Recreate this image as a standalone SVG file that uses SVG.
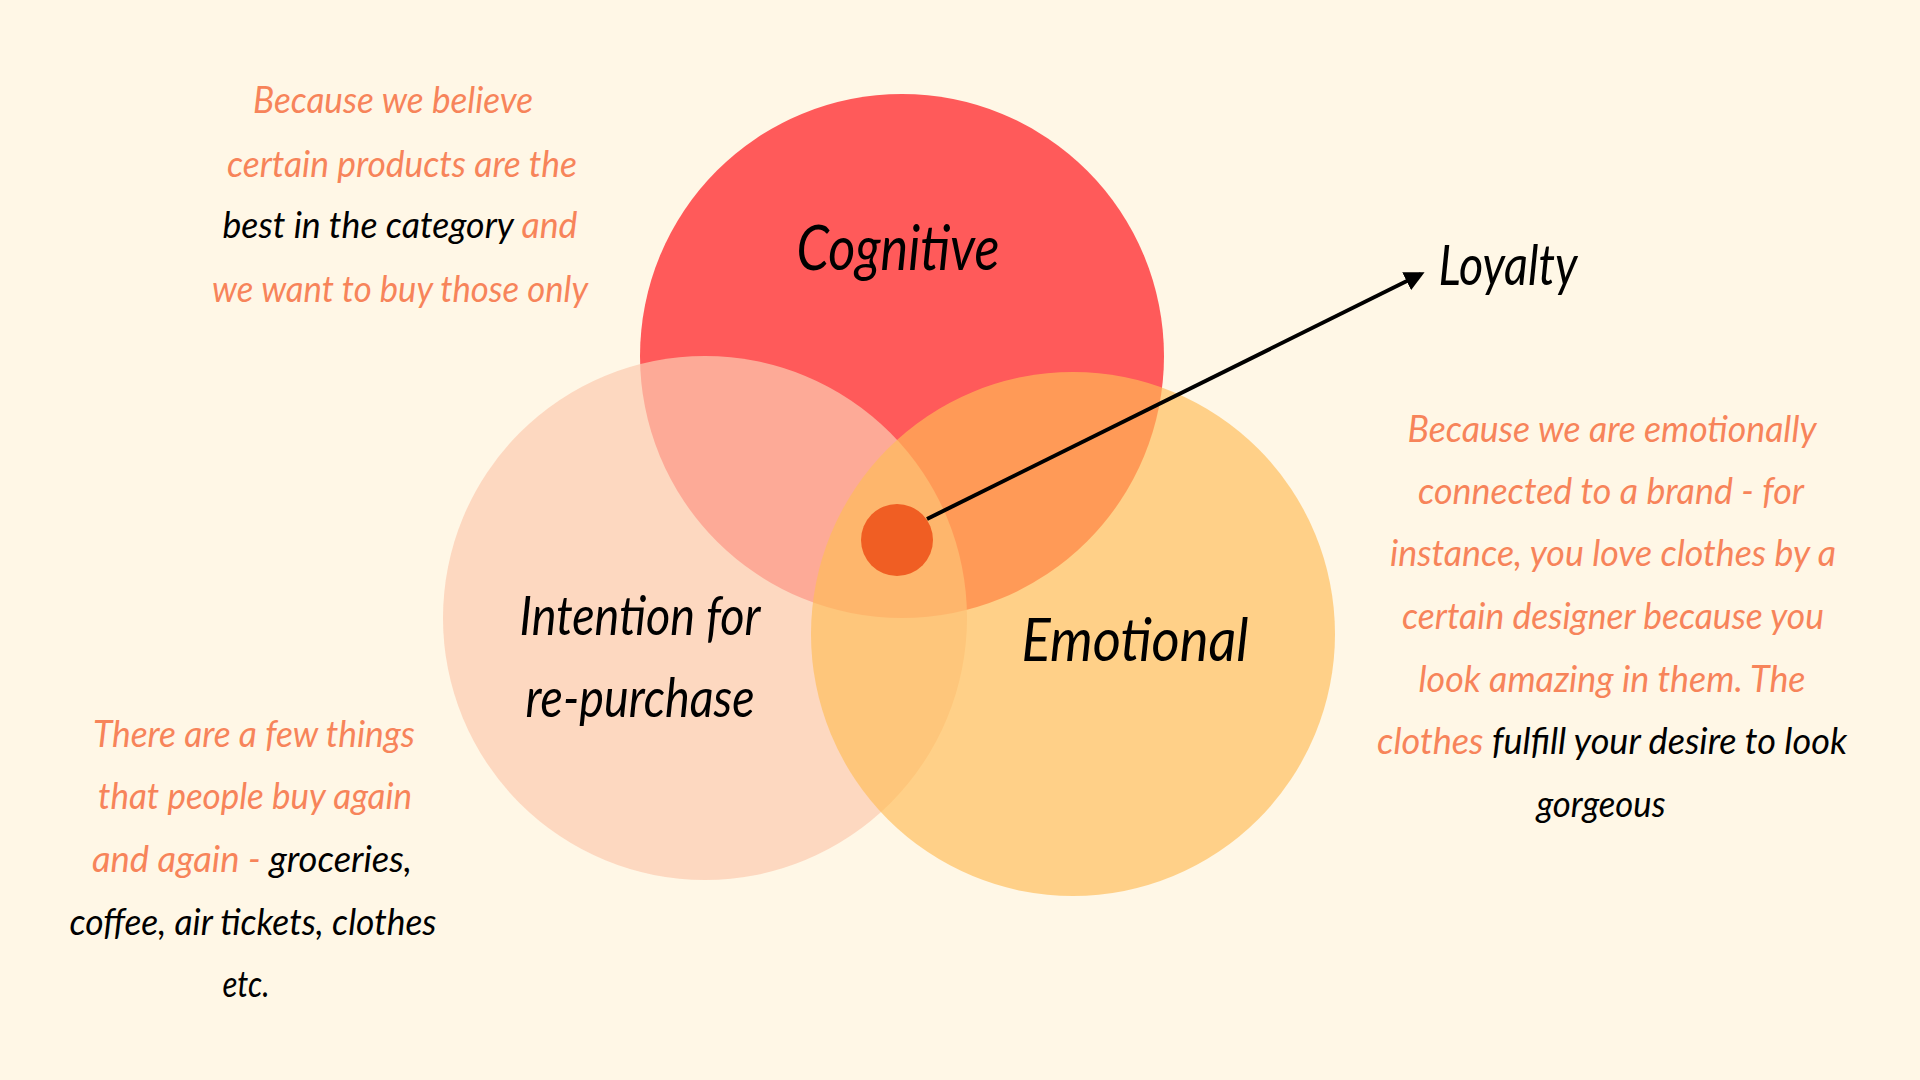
<svg xmlns="http://www.w3.org/2000/svg" width="1920" height="1080" viewBox="0 0 1920 1080">
<defs>
<style>
.t{font-family:Lato,"Open Sans","DejaVu Sans",sans-serif;font-style:italic;font-size:36px;fill:#F7845A;text-anchor:middle}
.k{fill:#000}
.lbl{font-family:Lato,"Open Sans","DejaVu Sans",sans-serif;font-style:italic;fill:#000;text-anchor:middle}
</style>
<marker id="ah" viewBox="0 0 10 10" refX="8" refY="5" markerWidth="5" markerHeight="5" orient="auto" markerUnits="strokeWidth">
<path d="M0,0 L10,5 L0,10 z" fill="#000"/>
</marker>
</defs>
<rect width="1920" height="1080" fill="#FFF7E6"/>
<g id="cognitive">
<circle cx="902" cy="356" r="262" fill="#FF5A5A"/>
</g>
<g id="intention">
<circle cx="705" cy="618" r="262" fill="#FCCBB0" fill-opacity="0.71"/>
</g>
<g id="emotional">
<circle cx="1073" cy="634" r="262" fill="#FFBC57" fill-opacity="0.66"/>
</g>
<g id="labels">
<text class="lbl" x="898" y="270" font-size="62" textLength="203" lengthAdjust="spacingAndGlyphs">Cognitive</text>
<text class="lbl" x="640" y="635" font-size="54" textLength="241" lengthAdjust="spacingAndGlyphs">Intention for</text>
<text class="lbl" x="640" y="717" font-size="54" textLength="229" lengthAdjust="spacingAndGlyphs">re-purchase</text>
<text class="lbl" x="1135" y="661" font-size="60" textLength="227" lengthAdjust="spacingAndGlyphs">Emotional</text>
</g>
<g id="loyalty-dot">
<circle cx="897" cy="540" r="36" fill="#F05E23"/>
</g>
<g id="connectors">
<line x1="927" y1="519" x2="1421" y2="274" stroke="#000" stroke-width="4" marker-end="url(#ah)"/>
</g>
<g id="loyalty">
<text class="lbl" x="1508" y="285" font-size="56" textLength="139" lengthAdjust="spacingAndGlyphs">Loyalty</text>
</g>
<g id="note-cognitive">
<text class="t" x="393" y="113" textLength="280" lengthAdjust="spacingAndGlyphs">Because we believe</text>
<text class="t" x="402" y="177" textLength="350" lengthAdjust="spacingAndGlyphs">certain products are the</text>
<text class="t" x="400" y="238" textLength="355" lengthAdjust="spacingAndGlyphs"><tspan class="k">best in the category</tspan> and</text>
<text class="t" x="400" y="302" textLength="376" lengthAdjust="spacingAndGlyphs">we want to buy those only</text>
</g>
<g id="note-emotional">
<text class="t" x="1612" y="442" textLength="409" lengthAdjust="spacingAndGlyphs">Because we are emotionally</text>
<text class="t" x="1611" y="504" textLength="386" lengthAdjust="spacingAndGlyphs">connected to a brand - for</text>
<text class="t" x="1613" y="566" textLength="446" lengthAdjust="spacingAndGlyphs">instance, you love clothes by a</text>
<text class="t" x="1613" y="629" textLength="422" lengthAdjust="spacingAndGlyphs">certain designer because you</text>
<text class="t" x="1612" y="692" textLength="387" lengthAdjust="spacingAndGlyphs">look amazing in them. The</text>
<text class="t" x="1612" y="754" textLength="470" lengthAdjust="spacingAndGlyphs">clothes <tspan class="k">fulfill your desire to look</tspan></text>
<text class="t k" x="1601" y="817" textLength="129" lengthAdjust="spacingAndGlyphs">gorgeous</text>
</g>
<g id="note-intention">
<text class="t" x="254" y="747" textLength="322" lengthAdjust="spacingAndGlyphs">There are a few things</text>
<text class="t" x="255" y="809" textLength="314" lengthAdjust="spacingAndGlyphs">that people buy again</text>
<text class="t" x="252" y="872" textLength="320" lengthAdjust="spacingAndGlyphs">and again - <tspan class="k">groceries,</tspan></text>
<text class="t k" x="253" y="935" textLength="367" lengthAdjust="spacingAndGlyphs">coffee, air tickets, clothes</text>
<text class="t k" x="246" y="997" textLength="47" lengthAdjust="spacingAndGlyphs">etc.</text>
</g>
</svg>
